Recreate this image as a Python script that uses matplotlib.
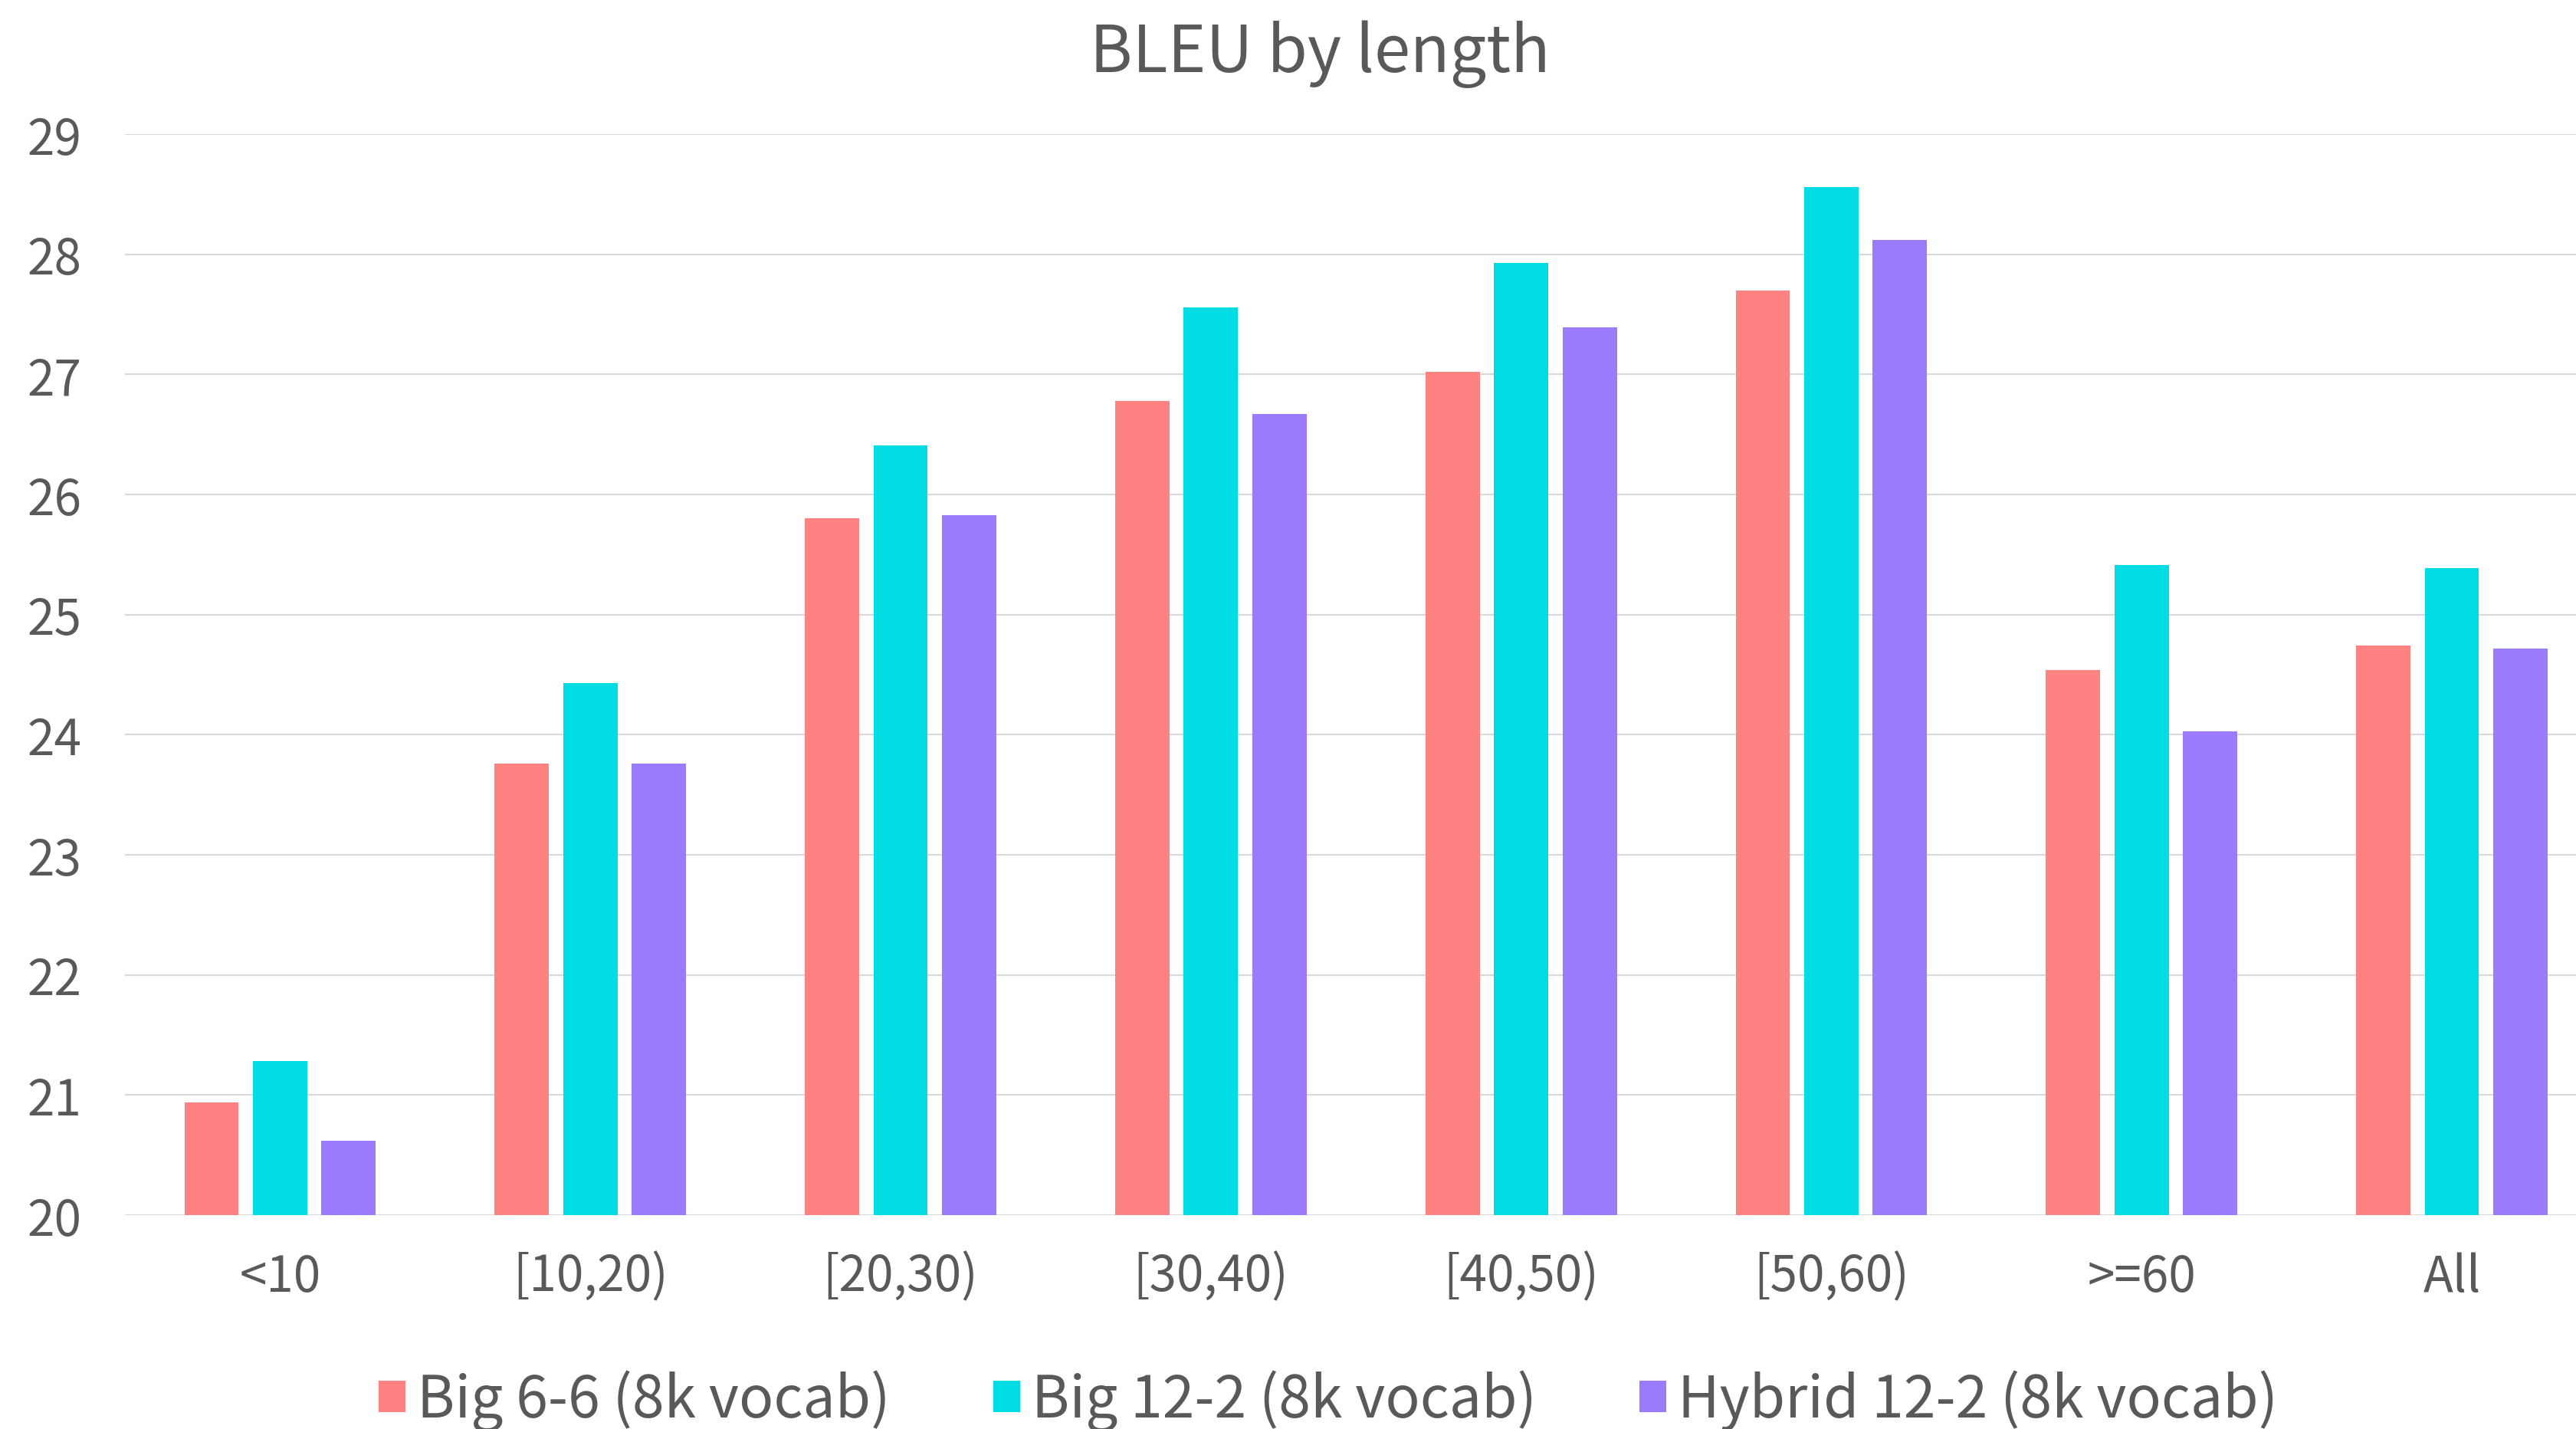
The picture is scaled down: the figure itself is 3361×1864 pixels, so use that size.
import matplotlib
matplotlib.use("Agg")
import matplotlib.pyplot as plt
from matplotlib.patches import Patch
import numpy as np

categories = ["<10", "[10,20)", "[20,30)", "[30,40)", "[40,50)", "[50,60)", ">=60", "All"]
series_names = ["Big 6-6 (8k vocab)", "Big 12-2 (8k vocab)", "Hybrid 12-2 (8k vocab)"]
big_6_6 = [20.94, 23.76, 25.80, 26.78, 27.02, 27.70, 24.54, 24.74]
big_12_2 = [21.28, 24.43, 26.41, 27.56, 27.93, 28.56, 25.41, 25.39]
hybrid_12_2 = [20.62, 23.76, 25.83, 26.67, 27.39, 28.12, 24.03, 24.72]
y_ticks = [20, 21, 22, 23, 24, 25, 26, 27, 28, 29]

colors = ["#FF8282", "#00DCE4", "#9A7BFC"]
text_color = "#595959"
grid_color = "#D9D9D9"

plt.rcParams["font.family"] = ["Noto Sans CJK KR", "DejaVu Sans"]
plt.rcParams["font.weight"] = "light"

W, H, DPI = 3361, 1865, 100
fig = plt.figure(figsize=(W / DPI, H / DPI), dpi=DPI)
ax = fig.add_axes([163 / W, 1 - 1586 / H, 1 - 163 / W, (1586 - 176) / H])

x = np.arange(len(categories))
bar_w = 0.175
step = 0.221
for i, (vals, name, c) in enumerate(zip([big_6_6, big_12_2, hybrid_12_2], series_names, colors)):
    ax.bar(x + (i - 1) * step, np.array(vals) - 20, bottom=20, width=bar_w,
           color=c, label=name, zorder=3, linewidth=0)

ax.set_ylim(20, 29)
ax.set_xlim(-0.5, 7.40)
ax.set_yticks(y_ticks)
ax.set_xticks(x)
ax.set_xticklabels(categories)
ax.grid(axis="y", color=grid_color, linewidth=1.5, zorder=0)
ax.set_axisbelow(True)
for s in ax.spines.values():
    s.set_visible(False)
ax.tick_params(axis="both", length=0, colors=text_color, labelsize=46)
ax.tick_params(axis="y", pad=41)
ax.tick_params(axis="x", pad=34)

fig.text(1722 / W, 1 - 94 / H, "BLEU by length", ha="center", va="baseline",
         fontsize=61, color=text_color)

handles = [Patch(facecolor=c, edgecolor="none") for c in colors]
leg = fig.legend(handles, series_names, loc="center", ncol=3,
                 bbox_to_anchor=(1733 / W, 1 - 1828 / H), frameon=False,
                 fontsize=54, handlelength=0.46, handleheight=0.46,
                 handletextpad=0.2, columnspacing=1.8, borderpad=0)
for t in leg.get_texts():
    t.set_color(text_color)

fig.savefig("out.png", dpi=DPI)
